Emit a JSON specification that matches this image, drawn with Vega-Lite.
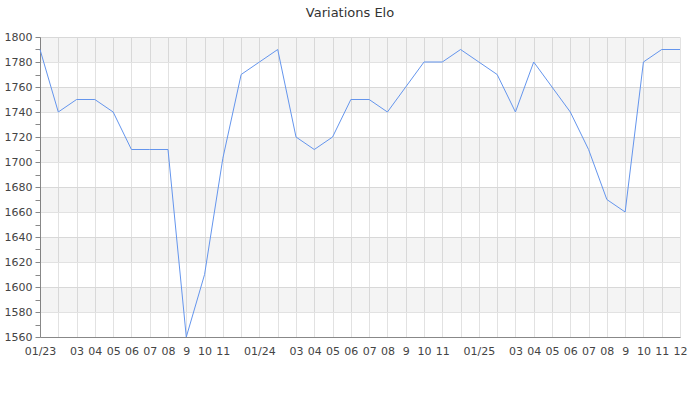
{
  "$schema": "https://vega.github.io/schema/vega-lite/v6.json",
  "width": 640,
  "height": 300,
  "autosize": "none",
  "padding": {"left": 40, "top": 37, "right": 20, "bottom": 63},
  "background": "white",
  "title": {"text": "Variations Elo", "fontSize": 13, "font": "DejaVu Sans", "fontWeight": "normal", "color": "#333333", "offset": 11, "dx": -10},
  "config": {
    "view": {"stroke": null},
    "axis": {"labelFont": "DejaVu Sans", "labelFontSize": 11, "labelColor": "#444444", "gridColor": "#e2e2e2", "domainColor": "#888888", "tickColor": "#888888", "labelOverlap": false}
  },
  "layer": [
    {
      "data": {"values": [
        {"lo": 1580, "hi": 1600}, {"lo": 1620, "hi": 1640}, {"lo": 1660, "hi": 1680},
        {"lo": 1700, "hi": 1720}, {"lo": 1740, "hi": 1760}, {"lo": 1780, "hi": 1800}
      ]},
      "mark": {"type": "rect", "fill": "#000000", "opacity": 0.045},
      "encoding": {
        "y": {
          "field": "lo", "type": "quantitative",
          "scale": {"domain": [1560, 1800], "nice": false, "zero": false},
          "axis": {
            "title": null,
            "values": [1560,1570,1580,1590,1600,1610,1620,1630,1640,1650,1660,1670,1680,1690,1700,1710,1720,1730,1740,1750,1760,1770,1780,1790,1800],
            "labelExpr": "datum.value % 20 == 0 ? format(datum.value, 'd') : ''",
            "gridOpacity": {"condition": {"test": "datum.value % 20 != 0", "value": 0}, "value": 1},
            "tickSize": 5, "labelPadding": 3, "labelOverlap": false, "labelFlush": false, "grid": true
          }
        },
        "y2": {"field": "hi"}
      }
    },
    {
      "data": {"values": [
        {"m": 0, "elo": 1790}, {"m": 1, "elo": 1740}, {"m": 2, "elo": 1750}, {"m": 3, "elo": 1750},
        {"m": 4, "elo": 1740}, {"m": 5, "elo": 1710}, {"m": 6, "elo": 1710}, {"m": 7, "elo": 1710},
        {"m": 8, "elo": 1560}, {"m": 9, "elo": 1610}, {"m": 10, "elo": 1703}, {"m": 11, "elo": 1770},
        {"m": 12, "elo": 1780}, {"m": 13, "elo": 1790}, {"m": 14, "elo": 1720}, {"m": 15, "elo": 1710},
        {"m": 16, "elo": 1720}, {"m": 17, "elo": 1750}, {"m": 18, "elo": 1750}, {"m": 19, "elo": 1740},
        {"m": 20, "elo": 1760}, {"m": 21, "elo": 1780}, {"m": 22, "elo": 1780}, {"m": 23, "elo": 1790},
        {"m": 24, "elo": 1780}, {"m": 25, "elo": 1770}, {"m": 26, "elo": 1740}, {"m": 27, "elo": 1780},
        {"m": 28, "elo": 1760}, {"m": 29, "elo": 1740}, {"m": 30, "elo": 1710}, {"m": 31, "elo": 1670},
        {"m": 32, "elo": 1660}, {"m": 33, "elo": 1780}, {"m": 34, "elo": 1790}, {"m": 35, "elo": 1790}
      ]},
      "mark": {"type": "line", "color": "#6495ed", "strokeWidth": 1},
      "encoding": {
        "x": {
          "field": "m", "type": "quantitative",
          "scale": {"domain": [0, 35], "nice": false, "zero": false},
          "axis": {
            "title": null, "values": [0,1,2,3,4,5,6,7,8,9,10,11,12,13,14,15,16,17,18,19,20,21,22,23,24,25,26,27,28,29,30,31,32,33,34,35],
            "labelExpr": "['01/23','','03','04','05','06','07','08','9','10','11','','01/24','','03','04','05','06','07','08','9','10','11','','01/25','','03','04','05','06','07','08','9','10','11','12'][datum.value]",
            "ticks": false, "labelPadding": 8, "labelOverlap": false, "labelFlush": false, "grid": true
          }
        },
        "y": {
          "field": "elo", "type": "quantitative",
          "scale": {"domain": [1560, 1800], "nice": false, "zero": false},
          "axis": {
            "title": null,
            "values": [1560,1570,1580,1590,1600,1610,1620,1630,1640,1650,1660,1670,1680,1690,1700,1710,1720,1730,1740,1750,1760,1770,1780,1790,1800],
            "labelExpr": "datum.value % 20 == 0 ? format(datum.value, 'd') : ''",
            "gridOpacity": {"condition": {"test": "datum.value % 20 != 0", "value": 0}, "value": 1},
            "tickSize": 5, "labelPadding": 3, "labelOverlap": false, "labelFlush": false, "grid": true
          }
        }
      }
    }
  ]
}
